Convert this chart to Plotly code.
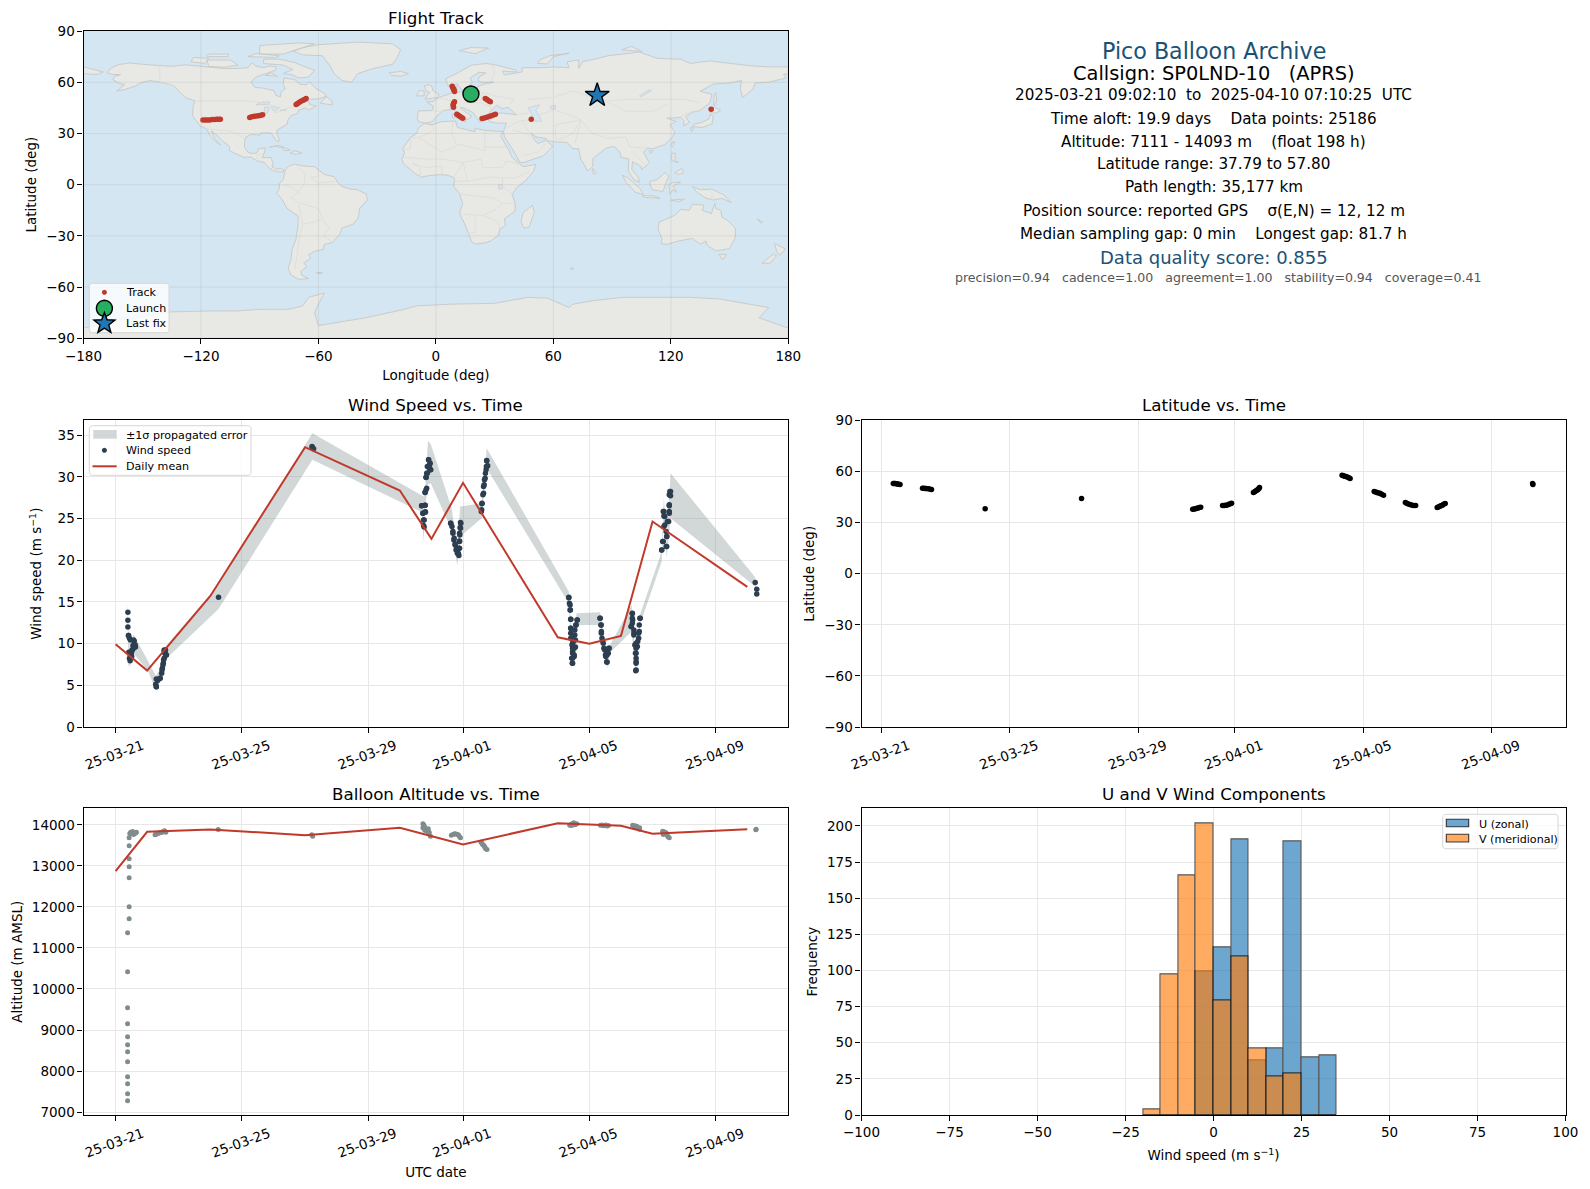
import math
import pandas as pd
import plotly.graph_objects as go

W, H = 1590, 1189
FONT = "DejaVu Sans"

# ---------- header text ----------
summary_lines = [
    "2025-03-21 09:02:10  to  2025-04-10 07:10:25  UTC",
    "Time aloft: 19.9 days    Data points: 25186",
    "Altitude: 7111 - 14093 m    (float 198 h)",
    "Latitude range: 37.79 to 57.80",
    "Path length: 35,177 km",
    "Position source: reported GPS    σ(E,N) = 12, 12 m",
    "Median sampling gap: 0 min    Longest gap: 81.7 h",
]
quality_text = "precision=0.94   cadence=1.00   agreement=1.00   stability=0.94   coverage=0.41"

# ---------- ticks ----------
date_tick_vals = ["2025-03-21", "2025-03-25", "2025-03-29", "2025-04-01", "2025-04-05", "2025-04-09"]
date_tick_text = ["25-03-21", "25-03-25", "25-03-29", "25-04-01", "25-04-05", "25-04-09"]

# ---------- track ----------
track_lon = [-119.0,-117.8,-116.7,-115.5,-114.3,-113.1,-112.0,-111.0,-110.1,
             -95.1,-94.0,-92.8,-91.6,-90.4,-89.4,-88.5,
             -71.4,-70.6,-69.8,-68.9,-67.9,-67.1,-66.3,
             8.3,8.6,9.0,9.3,9.5, 25.2,25.8,26.4,27.1,27.8,
             9.5,9.1,8.8,8.9,9.0, 10.7,11.4,12.1,12.9,13.7,
             23.6,24.8,26.0,27.2,28.3,29.4,30.4, 48.7, 140.6]
track_lat = [37.8,37.8,37.8,37.9,38.1,38.2,38.3,38.3,38.3,
             39.4,39.7,40.0,40.2,40.4,40.7,41.0,
             46.9,47.6,48.3,48.9,49.4,49.9,50.4,
             57.7,56.9,56.0,55.3,54.6, 50.4,50.0,49.6,49.0,48.5,
             48.6,47.8,47.0,46.1,45.3, 41.2,40.6,40.0,39.5,38.9,
             38.7,39.1,39.5,39.9,40.3,40.8,41.2, 38.3, 44.1]
launch_lon, launch_lat = [17.9], [53.1]
last_lon, last_lat = [82.4], [52.3]

# ---------- land outlines (approximate coastlines, lon/lat) ----------
land_shapes = [
    # North America
    [(-168,65.6),(-166,68.3),(-162,70.3),(-156.5,71.3),(-150,70.5),(-141,69.7),(-135,69.3),(-128,70.2),(-124,69.7),(-115,68.5),(-108,68),(-102,68),(-96,68.5),(-94,71.5),(-92,69.5),(-88,68.5),(-85,69.5),(-81.5,69),(-82,67),(-87,65),(-92,63),(-94.5,60),(-92.5,57),(-88,56.5),(-82.5,55),(-82,52.5),(-79.5,51.3),(-79,54.5),(-77,56),(-78,59),(-77.5,62.5),(-72,61.5),(-69.5,58.8),(-66,58.5),(-64.5,60.3),(-61.5,56.5),(-57,53.5),(-56,51.7),(-60,50.2),(-66,50),(-70,47.5),(-65,49),(-64.5,47),(-61,46),(-65,43.7),(-67,45),(-70,43.7),(-70.5,41.7),(-74,40.5),(-75.5,38),(-76,35.5),(-78,34),(-81,32),(-81.3,30),(-80,26.8),(-80.5,25.2),(-81.8,26),(-82.8,28),(-84,30),(-86,30.4),(-89.5,30.2),(-90,29),(-94,29.5),(-97,28),(-97.7,25),(-97.8,22),(-96,19),(-94,18.2),(-91.5,18.6),(-90.5,21),(-87,21.5),(-87.7,18.5),(-88.8,15.9),(-84,15.8),(-83.3,12),(-83.7,10.5),(-81.5,9),(-79.5,9.5),(-77.5,8.7),(-78,7.5),(-80.3,7.5),(-83,8.2),(-85.5,10),(-87.5,13),(-91.5,14),(-94.5,16.2),(-98,16),(-102,18),(-105.5,20),(-105.5,22.5),(-109,25.7),(-112.5,29.5),(-114.7,31.5),(-113,27),(-110,23.2),(-112,24.7),(-115,28),(-117,32.5),(-120.5,34.5),(-122.5,37.5),(-124.3,40.4),(-124,46),(-123,49),(-128,51),(-131,54.5),(-134,58),(-140,59.8),(-146,61),(-151,59.5),(-153,58),(-158,56),(-163,54.8),(-159,58.5),(-162,59.5),(-165,61.5),(-164,63.5),(-161,64.5),(-165,64.5),(-168,65.6)],
    # Arctic Canada
    [(-80,73.5),(-72,71.5),(-68,69.5),(-62,67),(-65,63),(-70,62.5),(-74,64.5),(-78,65),(-73,67.5),(-78,70),(-88,71),(-88,73.5),(-80,73.5)],
    [(-117,73),(-105,73),(-101,70),(-108,68.8),(-116,69.2),(-117,73)],
    [(-90,76.5),(-78,76.5),(-62,82.5),(-70,83),(-90,81.5),(-90,76.5)],
    [(-96,75),(-82,74.5),(-80,75.5),(-92,76.8),(-96,75)],
    [(-125,72),(-118,71),(-116,74),(-124,74.5),(-125,72)],
    [(-117,75),(-106,75),(-106,76.5),(-116,76.5),(-117,75)],
    [(-59,47.7),(-53,46.7),(-53,49),(-56,51.5),(-59,47.7)],
    [(-87,64),(-81,63.5),(-84,65.5),(-87,64)],
    # Greenland, Iceland
    [(-73,78.2),(-67,80.5),(-60,82),(-40,83.5),(-22,82.5),(-18,79),(-20,74),(-22,70.5),(-32,68),(-40,65),(-43,60),(-48,61),(-52,65),(-54,69.5),(-58,75.5),(-68,76),(-73,78.2)],
    [(-24,65.5),(-18,66.3),(-14,65),(-18,63.5),(-22.5,64),(-24,65.5)],
    # Caribbean
    [(-85,22),(-80,23),(-74.3,20.2),(-77.5,19.9),(-78,21.5),(-82,22.5),(-85,22)],
    [(-74.3,18.5),(-72,19.9),(-68.5,18.6),(-71.5,17.8),(-74.3,18.5)],
    # South America
    [(-77,8.5),(-75,11),(-72,12),(-68,11),(-62,10.5),(-60,8.5),(-57,6),(-52,4.7),(-50,1),(-48,-1),(-44,-2.5),(-40,-3),(-35.5,-5.5),(-35,-9),(-39,-14),(-39.5,-19),(-42,-23),(-48,-25.5),(-49,-29),(-53,-34),(-57,-35),(-57.5,-38),(-62,-39),(-65,-41),(-64,-43),(-67.5,-46),(-66,-48),(-69,-51),(-68.5,-53),(-65,-55),(-70,-55.5),(-74,-53),(-75.5,-49),(-74,-44),(-73.5,-38),(-71.5,-32),(-70.5,-25),(-70.3,-18.5),(-76,-14),(-79,-8),(-81.3,-5),(-80,-2.5),(-80,0.5),(-78,3),(-77.5,7),(-77,8.5)],
    [(-61,-51.5),(-58,-51.5),(-59,-52.3),(-61,-51.5)],
    # Africa, Madagascar
    [(-6,35.8),(-2,35),(3,36.9),(10,37.3),(11,33.5),(15,32.4),(20,31),(20,33),(25,31.8),(32,31.2),(34.2,31.2),(33,28.5),(35.5,24),(37.3,20),(39,15.8),(43,11.6),(44.5,10.5),(51,11.9),(50,8),(46,2.5),(41,-2),(39,-6),(40.5,-11),(40.5,-15.5),(35,-20),(35.5,-24),(32.7,-26),(32,-29.5),(28,-33),(25.5,-34),(20,-34.8),(18.3,-33.5),(16.5,-28.5),(14.5,-22.5),(12,-17),(13.7,-11),(12,-5),(9,-1),(9.7,3.5),(8.5,4.5),(5,5.8),(1,5.8),(-4,5.2),(-7.5,4.4),(-11,6.8),(-13.5,9.5),(-16.7,12.5),(-17.3,14.7),(-16,19),(-17,21),(-13,27.7),(-9.8,30),(-9,33),(-6,35.8)],
    [(49.3,-12),(50.3,-16),(47.5,-25),(45,-25.5),(43.5,-22),(44.5,-16.5),(49.3,-12)],
    # Eurasia
    [(-9,37),(-9.5,39),(-9,43.2),(-2,43.4),(-1.2,46),(-4.6,48.4),(-1.5,48.7),(1.5,50.9),(4,52),(8,53.6),(8.5,57),(10.7,57.7),(10.5,54),(14,54),(19,54.4),(21,57),(24,58.8),(29.5,60),(23,60),(21.5,61),(22,63),(25.5,65.5),(22,65.8),(17.5,62.5),(18.5,60),(16,56.5),(13,55.5),(11,59),(6,58),(5,62),(12,66),(18,70),(26,71),(31,70),(41,67),(41,66),(34,66.5),(35,64.3),(40,65),(44,66),(44,68.5),(54,68.5),(60,69),(68,68.5),(67,72),(73,73),(73,68),(75,72),(81,73.5),(88,75.5),(104,77.7),(113,74),(125,73.5),(130,71),(140,72.5),(152,71),(160,69.7),(170,69),(180,69),(180,65),(177.5,64.6),(179,62.5),(170,60),(163,59.5),(162,56),(156.7,51),(155.5,56),(156,61),(150,59.5),(142,59),(135,54.7),(141,53),(140,48),(135,43.5),(130.7,42.3),(127.5,39.8),(129.5,36.5),(126.5,34.4),(126.7,37.5),(125,39.5),(121.5,39),(118,39),(122.5,37),(119.5,35),(122,31),(121,28),(117,23.5),(110.5,21),(108,21.5),(106,19),(109,13),(107,10.5),(105,8.8),(105,10.5),(100.5,13.5),(100,9),(103.5,4),(104,1.4),(101,3),(98.3,8),(98.5,15),(94.5,16),(94,19),(91,22.5),(87,21.3),(80.3,15.5),(80,10.5),(77.5,8),(74,15),(72.8,21),(70,21),(67,24.8),(61.5,25),(57,25.7),(56.3,27),(51,28),(48.7,30.2),(50.2,26.5),(52,24),(56,26),(59.8,22.5),(55,17),(45,13),(43,13),(39,21),(35,28),(34.5,31.2),(36,36),(32,36),(27.5,36.8),(26.3,39.5),(29,41),(33,42),(41,41),(38,44.5),(37,45.3),(33.7,44.5),(31,46.5),(28,43),(26,40.7),(23.7,40),(24,38),(22.5,36.5),(19.5,41),(19,42.2),(14,45),(12.3,45.2),(16,41.8),(18.3,40),(16,38),(12.5,41.5),(8.8,44.3),(3.5,43.3),(0,39.5),(-2,36.8),(-5.5,36),(-9,37)],
    # Chukotka west of the dateline
    [(-180,69),(-175,67.5),(-170,66),(-173,64.5),(-180,65),(-180,69)],
    # British Isles and Mediterranean islands
    [(-5.5,50),(1.3,51.2),(1.5,53),(-1.5,55),(-2,57.5),(-3.5,58.6),(-6,58),(-5,55),(-3,54),(-4.5,52.5),(-5.5,50)],
    [(-10,52),(-6,52),(-6,55),(-8.5,55),(-10,52)],
    [(12.5,38),(15.5,38.2),(15,36.7),(12.5,38)],
    [(8.3,41),(9.7,41),(9.5,39),(8.5,39),(8.3,41)],
    # Arctic Russia
    [(52,71),(57,70.7),(60,75),(68,77),(58,75.5),(53,73),(52,71)],
    [(12,78.5),(20,76.7),(27,80),(18,80.3),(12,78.5)],
    [(95,79),(105,78),(100,81),(95,79)],
    # East Asia
    [(142,46),(143.5,49),(143,54),(142,52),(142,46)],
    [(131,34),(136,33.5),(141,35.5),(141.7,40),(140,41),(139.5,38.5),(136,36.5),(132,35.5),(131,34)],
    [(140,42),(143,42),(145.5,43.5),(142,45.5),(141.3,43.5),(140,42)],
    [(130,33.5),(131.8,33),(130.5,31),(130,33.5)],
    [(80,9.5),(82,7),(80.5,6),(80,9.5)],
    [(121,25),(122,25),(120.8,22),(120,23),(121,25)],
    [(109,20),(111,19.7),(109.5,18.2),(109,20)],
    # Maritime SE Asia
    [(120.5,18.5),(122.3,18.3),(122,14),(124,13),(120.5,14),(120.5,18.5)],
    [(122,7),(125.5,9.5),(126.5,7),(124,6),(122,7)],
    [(95.3,5.6),(98,4),(104,-2),(106,-5.8),(102,-4.5),(97,1.5),(95.3,5.6)],
    [(105.3,-6.5),(111,-6.5),(114.5,-8),(106.5,-7.5),(105.3,-6.5)],
    [(109,1.5),(113,3),(117,7),(119,5),(117.5,1),(116,-4),(110.5,-3),(109,1.5)],
    [(119.5,-5.5),(119,0),(121,1.2),(125,1.5),(121,-1),(123,-4.5),(121,-3),(119.5,-5.5)],
    [(131,-1),(135,-3),(141,-2.6),(147,-6),(150.8,-10.5),(146,-8),(142,-9),(138,-8),(133,-4),(131,-1)],
    [(120,-9),(127,-8.5),(124,-10),(120,-9)],
    # Australia and neighbours
    [(114,-22),(113.5,-26),(115.5,-32),(115,-34.5),(118,-35),(124,-33),(131,-31.5),(135,-34.8),(138,-33),(138.5,-35.5),(143,-38.8),(147,-38),(150,-37.5),(153,-31),(153,-25.5),(149,-21),(146,-19),(145.5,-15),(143,-14),(142.5,-11),(140.7,-17),(136,-15),(137,-12),(131,-11.5),(129.5,-15),(125,-14.5),(122,-18),(117,-20.5),(114,-22)],
    [(144.7,-40.8),(148.3,-40.8),(147,-43.5),(146,-43.5),(144.7,-40.8)],
    [(173,-34.5),(178.5,-37.7),(175.5,-41.5),(174,-39),(173,-34.5)],
    [(172.5,-40.7),(174,-41.7),(170.7,-46),(166.5,-46),(171,-42),(172.5,-40.7)],
    [(164,-20),(167,-22),(166,-22.5),(164,-20)],
    [(68.5,-49),(70.5,-49),(69.5,-49.8),(68.5,-49)],
    # Antarctica
    [(-180,-84),(-180,-90),(180,-90),(180,-84),(165,-78),(170,-72),(160,-70),(145,-67),(130,-66),(110,-66),(95,-66),(80,-68),(70,-70),(68,-72),(57,-66.5),(47,-66),(30,-69.5),(8,-70),(-10,-71),(-16,-73),(-28,-76),(-36,-78),(-60,-82.5),(-62,-75),(-60,-70),(-57,-63.5),(-65,-66),(-68,-71),(-75,-73),(-90,-73),(-102,-74),(-115,-74),(-135,-74.5),(-150,-77),(-160,-79),(-180,-84)],
]
lake_shapes = [
    [(47,45),(53,46.8),(51,43.5),(53,40),(54,37),(50,37.3),(49,41),(47,45)],
    [(-92,46.8),(-85,47),(-85,48.5),(-89,48.3),(-92,46.8)],
    [(-87.8,42),(-86,42),(-85,45.5),(-87.5,45.5),(-87.8,42)],
    [(-84,46),(-80,45),(-82,43),(-83.5,44),(-84,46)],
    [(-79.5,43.5),(-76.5,43.5),(-76.5,44.2),(-79.5,43.5)],
    [(32,0),(34,0),(34,-2.5),(32,-2.5),(32,0)],
    [(104,52),(109,55.5),(110,55),(105,51.5),(104,52)],
    [(58.5,46),(61,46.5),(61,44.5),(58.5,44.5),(58.5,46)],
]
border_lines = [
    [(-123,49),(-95,49),(-89,48),(-84,46.5),(-82.5,42),(-79,43),(-75,45),(-70,46),(-67.5,47)],
    [(-141,69.7),(-141,60),(-134,58)],
    [(-117,32.5),(-106.5,31.7),(-101,29.5),(-97.5,26)],
    [(-92,14.5),(-91,17.5),(-89,18)],
    [(-72,12),(-67,6),(-67,1),(-70,-4),(-74,-7.5),(-70,-11),(-69,-18),(-68,-23),(-70,-33),(-72,-50)],
    [(-60,8.5),(-60,5),(-64,4),(-60,1),(-52,2)],
    [(-78,0),(-75,-1),(-70,-4)],
    [(-69,-11),(-60,-14),(-58,-20),(-54.5,-25.5),(-57.5,-30),(-53,-33.5)],
    [(-68,-23),(-62,-22),(-58,-20)],
    [(-8.5,27.5),(-1,32),(-2,35)],
    [(-17,21),(-13,21),(-13,27.7),(-8.5,27.5),(3,19),(12,23.5),(25,20),(25,31.8)],
    [(9,37),(8,31),(10,24),(12,23.5)],
    [(25,22),(37,22)],
    [(-16,16),(-5,15),(3,15),(14,13),(23,15),(24,10),(34,10),(36,14),(43,12)],
    [(-8,4.5),(-8,10),(-12,12.5),(-5,10),(3,11),(3,6)],
    [(9,4.5),(14,13)],
    [(14,13),(15,7),(16,2),(9.5,2)],
    [(16,2),(28,4.5),(34,4),(41,4),(48,8)],
    [(34,4),(34,-1),(39,-5)],
    [(12,-5.5),(22,-7),(30,-8),(34,-11),(40.5,-11)],
    [(12,-17),(24,-18),(30,-15),(34,-11)],
    [(20,-18),(20,-28),(16.5,-28.5)],
    [(24,-18),(32,-22),(32.7,-26)],
    [(8,54),(14,54),(14,51),(23,50),(24,54)],
    [(1.5,50.9),(8,49),(7,44)],
    [(-1.5,43.3),(3,42.5)],
    [(14,48),(23,48),(28,45.5),(28,43)],
    [(24,54),(30,52),(40,50),(38,47)],
    [(28,60),(30,65),(29,70)],
    [(47,42),(41,41)],
    [(53,41),(60,44),(68,41),(74,38),(61,35),(61,30),(61.5,25)],
    [(47,50),(60,51),(70,55),(80,51),(87,49),(98,50),(107,50),(118,50),(127,50),(135,48)],
    [(87,49),(97,43),(111,43),(118,47)],
    [(74,38),(80,30),(88,27),(97,28),(99,22),(107,21.5)],
    [(74,38),(70,30),(62,26)],
    [(74,37),(71,24)],
    [(44,37),(48,30)],
    [(36,33),(42,37),(48,38),(53,37)],
    [(39,32),(48,29),(56,24),(52,19),(44,17)],
    [(125,40),(131,43)],
    [(141,-2.6),(141,-9)],
    [(100,20),(105,14),(107,11)],
]

# ---------- wind speed ----------
wind_days = [0.39,0.39,0.39,0.41,0.44,0.44,0.46,0.42,0.50,0.53,0.55,0.59,0.63,0.57,0.51,0.47,
             0.41,0.47,0.57,0.62,0.57,0.49,0.47,0.52,
             1.29,1.27,1.29,1.34,1.41,1.46,1.48,1.51,1.54,1.56,1.58,1.61,1.54,
             1.29,1.33,1.41,1.47,1.50,1.52,1.57,1.54,1.60,
             3.26,6.23,6.22,6.27,
             9.69,9.80,9.73,9.81,9.77,9.75,9.80,9.85,9.83,9.91,9.87,9.96,9.98,9.85,9.94,
             9.91,9.94,9.96,9.87,9.83,9.83,9.80,9.69,9.80,9.73,9.81,9.75,9.77,
             10.61,10.65,10.68,10.71,10.75,10.78,10.82,10.87,10.89,10.89,10.90,10.91,10.92,
             10.61,10.68,10.72,10.75,10.80,10.85,10.87,10.89,10.89,10.92,10.93,
             11.58,11.60,11.63,11.65,11.68,11.71,11.74,11.75,11.78,
             11.59,11.60,11.65,11.67,11.70,11.73,11.75,11.77,
             14.35,14.37,14.39,14.41,14.41,14.41,14.45,14.47,14.44,14.46,14.56,14.54,14.57,14.61,14.49,14.52,
             14.35,14.39,14.40,14.41,14.41,14.41,14.45,14.47,14.47,14.47,14.47,14.47,14.56,14.52,14.52,14.54,14.58,14.62,
             15.34,15.37,15.38,15.40,15.44,15.49,15.52,15.56,15.60,15.63,15.55,
             15.34,15.37,15.38,15.42,15.46,15.51,15.55,15.61,15.56,
             16.36,16.37,16.33,16.41,16.44,16.52,16.46,16.48,16.47,16.56,16.58,16.61,
             16.36,16.36,16.36,16.32,16.41,16.41,16.48,16.48,16.48,16.48,16.48,16.48,16.60,16.58,16.56,16.53,
             17.29,17.32,17.43,17.45,17.36,17.34,17.39,17.51,17.53,17.53,17.53,17.57,
             17.55,17.57,17.53,17.53,17.36,17.36,17.47,17.39,17.43,17.45,17.34,17.29,17.45,
             20.25,20.30,20.30]
wind_speed = [13.76,12.8,12.0,10.96,10.64,8.24,7.96,8.96,8.84,9.24,9.76,10.32,9.6,9.44,8.44,8.56,
              10.96,10.44,10.44,9.84,9.6,8.84,8.24,9.2,
              4.84,5.12,5.76,5.6,5.84,6.44,7.04,7.64,8.24,8.84,9.24,8.64,9.12,
              4.84,5.64,5.84,6.84,7.44,8.04,8.84,9.24,8.64,
              15.56,33.52,33.64,33.36,
              26.52,26.6,25.64,25.76,24.84,24.16,28.16,28.64,29.92,32.04,31.24,31.64,30.84,30.44,31.04,
              32.04,31.44,30.84,30.44,29.96,28.44,28.12,26.52,26.6,25.64,25.8,24.84,24.0,
              24.44,24.04,23.24,22.44,21.84,21.24,20.84,20.56,21.44,22.32,23.04,23.92,24.52,
              24.44,23.44,22.64,21.96,21.44,20.84,21.44,22.24,23.24,23.84,24.44,
              25.84,26.76,27.84,28.84,29.64,30.44,31.24,31.92,31.32,
              26.04,26.84,28.04,29.04,29.84,30.84,31.96,31.3,
              15.5,14.84,14.04,12.92,11.84,10.64,9.84,9.04,8.24,7.64,9.6,11.04,12.24,12.84,10.24,8.64,
              15.56,14.64,14.04,12.92,11.84,11.24,10.64,10.04,9.44,8.84,8.24,7.64,10.44,9.44,8.44,11.64,12.24,12.84,
              13.04,12.24,11.44,10.64,10.04,9.24,8.44,7.76,8.84,9.44,9.04,
              13.04,12.24,11.24,10.32,9.44,8.64,7.84,9.44,8.64,
              13.6,12.84,12.04,11.24,9.84,9.64,8.84,7.84,6.76,10.64,11.44,13.04,
              13.64,13.04,12.44,12.04,11.64,11.04,10.04,9.44,8.84,8.24,7.64,6.84,13.04,12.24,11.24,10.24,
              21.24,22.24,21.64,22.84,24.04,25.84,25.24,24.64,25.84,26.52,27.84,28.24,
              28.24,27.74,26.64,25.64,25.84,25.3,24.64,24.24,23.44,22.84,22.24,21.24,21.64,
              17.32,16.52,15.96]
band_days = [0.38,0.41,0.46,0.57,1.04,1.27,1.43,1.56,3.26,6.23,9.70,9.75,9.81,9.89,9.98,10.64,10.82,10.91,
             11.59,11.75,14.35,14.45,14.60,15.34,15.57,15.63,16.34,16.47,16.60,17.29,17.36,17.45,17.57,20.25,20.30]
band_upper = [14.96,11.44,9.24,11.12,7.84,6.16,7.04,9.52,17.04,35.24,27.76,27.6,29.04,34.32,33.92,26.24,21.44,26.44,
              26.84,33.44,16.24,10.64,13.64,13.76,8.24,9.64,14.64,7.44,13.44,21.04,27.64,21.84,30.44,17.96,16.24]
band_lower = [13.04,7.36,7.36,8.84,6.64,4.44,5.64,8.04,14.16,32.04,25.76,22.16,26.64,29.04,29.24,23.64,19.36,22.84,
              25.04,31.04,14.84,6.84,12.24,12.24,7.04,8.84,11.44,6.32,12.24,19.84,25.04,20.24,25.04,16.84,15.44]
mean_days = [0, 1, 3, 6, 9, 10, 11, 14, 15, 16, 17, 20]
wind_mean = [9.92, 6.76, 15.72, 33.56, 28.36, 22.56, 29.28, 10.76, 10.0, 10.92, 24.64, 16.8]

# ---------- latitude ----------
lat_days = [0.37,0.40,0.43,0.47,0.50,0.54,0.58,1.28,1.32,1.36,1.40,1.45,1.50,1.56,3.23,6.23,
            9.69,9.74,9.78,9.82,9.86,9.90,9.94,10.62,10.67,10.72,10.77,10.82,10.86,10.90,11.58,11.62,11.65,11.69,11.72,11.75,11.77,
            14.34,14.38,14.42,14.46,14.50,14.55,14.59,15.34,15.38,15.43,15.47,15.52,15.57,15.63,16.31,16.35,16.40,16.45,16.50,16.56,16.63,
            17.30,17.34,17.38,17.42,17.46,17.50,17.55,20.27,20.28]
lat_vals = [52.9,52.9,52.9,52.8,52.7,52.5,52.3,50.2,50.1,50.0,50.0,49.9,49.7,49.4,38.2,44.1,
            37.8,38.0,38.2,38.4,38.6,38.8,39.0,40.0,40.1,40.2,40.4,40.7,41.0,41.4,47.6,48.1,48.5,49.0,49.5,50.0,50.6,
            57.8,57.5,57.2,57.0,56.7,56.3,55.9,48.2,47.9,47.6,47.4,47.2,46.7,46.1,41.8,41.3,40.9,40.6,40.3,40.1,40.0,
            38.8,39.2,39.6,39.9,40.2,40.7,41.2,53.0,52.4]

# ---------- altitude ----------
alt_days = [0.38,0.38,0.38,0.38,0.38,0.38,0.38,0.38,0.38,0.38,0.38,0.38,0.43,0.43,0.43,0.43,0.43,0.43,0.43,
            0.48,0.53,0.60,0.66,0.54,0.45,0.57,0.50,0.63,
            1.25,1.33,1.40,1.47,1.55,1.59,1.29,1.37,1.43,1.51,3.25,6.24,6.21,
            9.73,9.76,9.73,9.79,9.90,9.93,9.97,9.85,9.75,9.78,9.88,9.92,
            10.63,10.75,10.85,10.92,10.68,10.72,10.80,10.88,
            11.57,11.62,11.68,11.72,11.76,11.60,11.65,11.70,
            14.41,14.51,14.60,14.44,14.47,14.55,14.38,
            15.35,15.47,15.60,15.40,15.44,15.52,15.56,
            16.37,16.47,16.59,16.42,16.59,16.51,16.55,16.45,
            17.32,17.43,17.49,17.53,17.34,17.38,17.46,17.40,17.36,20.27,20.28]
alt_vals = [7279,7450,7693,7864,8229,8472,8643,8838,9154,9544,10420,11370,11711,12003,12710,12977,13172,13489,13683,
            13821,13789,13805,13821,13838,13789,13765,13810,13795,
            13756,13789,13805,13821,13854,13821,13770,13800,13815,13835,13886,13724,13756,
            14024,13984,13927,13870,13903,13821,13724,13846,14000,13950,13880,13780,
            13748,13781,13756,13683,13765,13775,13770,13720,
            13578,13521,13480,13416,13399,13550,13500,13440,
            14008,14049,14024,13984,14030,14000,13990,
            13992,13984,13984,13995,13975,13998,13970,
            13992,13951,13927,13943,13895,13960,13915,13975,
            13846,13805,13708,13683,13765,13820,13750,13790,13830,13878,13895]
alt_mean = [12872, 13830, 13886, 13748, 13927, 13730, 13521, 14040, 14000, 13976, 13781, 13894]

# ---------- histogram ----------
bin_centers = [-17.5, -12.5, -7.5, -2.5, 2.5, 7.5, 12.5, 17.5, 22.5, 27.5, 32.5]
u_counts = [0, 0, 0, 99, 116, 191, 38, 46, 189, 40, 41]
v_counts = [4, 97, 166, 202, 79, 110, 46, 27, 29, 0, 0]

# ---------- colours ----------
RED, SLATE, NAVY = "#c0392b", "#7f8c8d", "#2c3e50"
GREEN, BLUE, ORANGE = "#27ae60", "#1f77b4", "#ff7f0e"
TITLE_BLUE = "#1a5276"
GRID = "#e7e7e7"
OCEAN, LAND = "#d4e6f1", "#e8e8e4"
BAND = "rgba(127,140,141,0.35)"


def to_dates(days):
    return pd.Timestamp("2025-03-21") + pd.to_timedelta(days, unit="D")


def flatten(shapes):
    xs, ys = [], []
    for poly in shapes:
        xs += [p[0] for p in poly] + [None]
        ys += [p[1] for p in poly] + [None]
    return xs, ys


def xdom(a, b):
    return [a / W, b / W]


def ydom(top, bottom):
    return [1 - bottom / H, 1 - top / H]


fig = go.Figure()

# map
land_x, land_y = flatten(land_shapes)
lake_x, lake_y = flatten(lake_shapes)
bord_x, bord_y = flatten(border_lines)
fig.add_trace(go.Scatter(x=land_x, y=land_y, mode="lines", fill="toself", fillcolor=LAND,
                         line=dict(color="#c6c8c8", width=0.9), showlegend=False, hoverinfo="skip", xaxis="x", yaxis="y"))
fig.add_trace(go.Scatter(x=lake_x, y=lake_y, mode="lines", fill="toself", fillcolor=OCEAN,
                         line=dict(color="#c6c8c8", width=0.6), showlegend=False, hoverinfo="skip", xaxis="x", yaxis="y"))
fig.add_trace(go.Scatter(x=bord_x, y=bord_y, mode="lines", line=dict(color="#dcdcd9", width=0.8),
                         showlegend=False, hoverinfo="skip", xaxis="x", yaxis="y"))
fig.add_trace(go.Scatter(x=track_lon, y=track_lat, mode="markers", name="Track", showlegend=False,
                         marker=dict(color=RED, size=5.5), xaxis="x", yaxis="y"))
fig.add_trace(go.Scatter(x=launch_lon, y=launch_lat, mode="markers", name="Launch", showlegend=False,
                         marker=dict(color=GREEN, size=16, line=dict(color="black", width=1.4)), xaxis="x", yaxis="y"))
fig.add_trace(go.Scatter(x=last_lon, y=last_lat, mode="markers", name="Last fix", showlegend=False,
                         marker=dict(color=BLUE, size=18, symbol="star", line=dict(color="black", width=1.4)),
                         xaxis="x", yaxis="y"))

# wind
wind_x = to_dates(wind_days)
band_x = to_dates(band_days)
fig.add_trace(go.Scatter(x=list(band_x) + list(band_x[::-1]), y=band_upper + band_lower[::-1], mode="lines", fill="toself",
                         fillcolor=BAND, line=dict(width=0), name="±1σ propagated error",
                         showlegend=False, xaxis="x2", yaxis="y2", hoverinfo="skip"))
fig.add_trace(go.Scatter(x=wind_x, y=wind_speed, mode="markers", name="Wind speed", showlegend=False,
                         marker=dict(color=NAVY, size=5.5), xaxis="x2", yaxis="y2"))
fig.add_trace(go.Scatter(x=to_dates(mean_days), y=wind_mean, mode="lines", name="Daily mean", showlegend=False,
                         line=dict(color=RED, width=2), xaxis="x2", yaxis="y2"))

# latitude
fig.add_trace(go.Scatter(x=to_dates(lat_days), y=lat_vals, mode="markers", marker=dict(color="black", size=5.5),
                         showlegend=False, xaxis="x3", yaxis="y3"))

# altitude
fig.add_trace(go.Scatter(x=to_dates(alt_days), y=alt_vals, mode="markers", marker=dict(color=SLATE, size=5),
                         showlegend=False, xaxis="x4", yaxis="y4"))
fig.add_trace(go.Scatter(x=to_dates(mean_days), y=alt_mean, mode="lines", line=dict(color=RED, width=2),
                         showlegend=False, xaxis="x4", yaxis="y4"))

# histogram
fig.add_trace(go.Bar(x=bin_centers, y=u_counts, width=5, name="U (zonal)", showlegend=False,
                     marker=dict(color=BLUE, line=dict(color="black", width=1.1)), opacity=0.65,
                     xaxis="x5", yaxis="y5"))
fig.add_trace(go.Bar(x=bin_centers, y=v_counts, width=5, name="V (meridional)", showlegend=False,
                     marker=dict(color=ORANGE, line=dict(color="black", width=1.1)), opacity=0.65,
                     xaxis="x5", yaxis="y5"))


def axis(**kw):
    base = dict(showline=True, linecolor="black", linewidth=1.1, mirror=True, ticks="outside", ticklen=5, tickwidth=1.1,
                tickcolor="black", showgrid=True, gridcolor=GRID, gridwidth=1.1, zeroline=False, automargin=False,
                tickfont=dict(family=FONT, size=13.5, color="black"))
    base.update(kw)
    return base


def title(text, standoff):
    return dict(text=text, font=dict(family=FONT, size=13.5, color="black"), standoff=standoff)


def date_axis(rng, dom, anchor, **kw):
    return axis(type="date", range=rng, domain=dom, anchor=anchor, tickmode="array", tickvals=date_tick_vals,
                ticktext=date_tick_text, tickangle=-20, ticklabelshift=27, **kw)


LEFT = xdom(83.5, 788.3)
RIGHT = xdom(861.5, 1565.5)
ROW1 = ydom(31, 338.3)
ROW2 = ydom(420.4, 727)
ROW3 = ydom(808.4, 1115)
LEFT_RANGE = ["2025-03-19 23:38", "2025-04-11 07:10"]
LAT_RANGE = ["2025-03-20 09:08", "2025-04-11 07:04"]
lon_ticks = [-180, -120, -60, 0, 60, 120, 180]
lat_ticks = [-90, -60, -30, 0, 30, 60, 90]

fig.update_layout(
    width=W, height=H, autosize=False, margin=dict(l=0, r=0, t=0, b=0), showlegend=False,
    paper_bgcolor="white", plot_bgcolor="white", barmode="overlay", bargap=0,
    font=dict(family=FONT, size=13.5, color="black"), hovermode=False,
    xaxis=axis(range=[-180, 180], domain=LEFT, anchor="y", tickvals=lon_ticks, title=title("Longitude (deg)", 8), showgrid=False),
    yaxis=axis(range=[-90, 90], domain=ROW1, anchor="x", tickvals=lat_ticks, title=title("Latitude (deg)", 6), showgrid=False),
    xaxis2=date_axis(LEFT_RANGE, LEFT, "y2"),
    yaxis2=axis(range=[0, 36.77], domain=ROW2, anchor="x2", tickvals=list(range(0, 36, 5)),
                title=title("Wind speed (m s<sup>−1</sup>)", 12)),
    xaxis3=date_axis(LAT_RANGE, RIGHT, "y3"),
    yaxis3=axis(range=[-90, 90], domain=ROW2, anchor="x3", tickvals=lat_ticks, title=title("Latitude (deg)", 6)),
    xaxis4=date_axis(LEFT_RANGE, LEFT, "y4", title=title("UTC date", 7)),
    yaxis4=axis(range=[6930, 14400], domain=ROW3, anchor="x4", tickvals=list(range(7000, 14001, 1000)), tickformat="d",
                title=title("Altitude (m AMSL)", 6)),
    xaxis5=axis(range=[-100, 100], domain=RIGHT, anchor="y5", tickvals=list(range(-100, 101, 25)),
                title=title("Wind speed (m s<sup>−1</sup>)", 11)),
    yaxis5=axis(range=[0, 212.1], domain=ROW3, anchor="x5", tickvals=list(range(0, 201, 25)), title=title("Frequency", 6)),
)

# map graticule on top of the land
for v in lon_ticks[1:-1]:
    fig.add_shape(type="line", xref="x", yref="y", x0=v, x1=v, y0=-90, y1=90, line=dict(color="rgba(150,150,150,0.18)", width=1), layer="above")
for v in lat_ticks[1:-1]:
    fig.add_shape(type="line", xref="x", yref="y", x0=-180, x1=180, y0=v, y1=v, line=dict(color="rgba(150,150,150,0.18)", width=1), layer="above")
# ocean background for the map panel
fig.add_shape(type="rect", xref="x", yref="y", x0=-180, x1=180, y0=-90, y1=90, fillcolor=OCEAN, line=dict(width=0), layer="below")


def note(text, xpx, ypx, size, color="black", anchor="center"):
    fig.add_annotation(text=text, xref="paper", yref="paper", x=xpx / W, y=1 - ypx / H, showarrow=False,
                       xanchor=anchor, yanchor="middle", font=dict(family=FONT, size=size, color=color))


def px_path(points, fill="rgba(0,0,0,0)", line_color="rgba(0,0,0,0)", line_width=0, close=True):
    path = "M " + " L ".join(f"{x:.2f},{-y:.2f}" for x, y in points) + (" Z" if close else "")
    fig.add_shape(type="path", path=path, xref="paper", yref="paper", xsizemode="pixel", ysizemode="pixel",
                  xanchor=0, yanchor=1, fillcolor=fill, line=dict(color=line_color, width=line_width), layer="above")


def rect_pts(x0, y0, x1, y1):
    return [(x0, y0), (x1, y0), (x1, y1), (x0, y1)]


def round_rect_pts(x0, y0, x1, y1, r=3):
    pts = []
    corners = [(x1 - r, y0 + r, -90), (x1 - r, y1 - r, 0), (x0 + r, y1 - r, 90), (x0 + r, y0 + r, 180)]
    for cx, cy, start in corners:
        for k in range(5):
            a = math.radians(start + k * 22.5)
            pts.append((cx + r * math.cos(a), cy + r * math.sin(a)))
    return pts


def circle_pts(cx, cy, r):
    return [(cx + r * math.cos(math.radians(a)), cy + r * math.sin(math.radians(a))) for a in range(0, 360, 15)]


def star_pts(cx, cy, r):
    pts = []
    for k in range(10):
        rad = r if k % 2 == 0 else r * 0.42
        a = math.radians(-90 + k * 36)
        pts.append((cx + rad * math.cos(a), cy + rad * math.sin(a)))
    return pts


def legend_box(x0, y0, x1, y1):
    px_path(round_rect_pts(x0, y0, x1, y1), fill="rgba(255,255,255,0.8)", line_color="#d6d6d6", line_width=1)


LEG = 11.1
# Flight track legend
legend_box(89.3, 283.3, 169, 332.7)
px_path(circle_pts(104.4, 292.3, 2.5), fill=RED)
px_path(circle_pts(104.4, 308.3, 8), fill=GREEN, line_color="black", line_width=1.4)
px_path(star_pts(104.4, 323.5, 11), fill=BLUE, line_color="black", line_width=1.4)
for text, y in [("Track", 292.3), ("Launch", 308.3), ("Last fix", 323.3)]:
    note(text, 124.2, y, LEG, anchor="left")

# Wind legend
legend_box(89.3, 425.7, 251, 475.3)
px_path(rect_pts(93.3, 430, 116.7, 438.7), fill=BAND)
px_path(circle_pts(104.4, 450.3, 2.5), fill=NAVY)
px_path([(92.5, 466.3), (116.7, 466.3)], line_color=RED, line_width=2, close=False)
for text, y in [("±1σ propagated error", 435), ("Wind speed", 450.3), ("Daily mean", 466.3)]:
    note(text, 124.3, y, LEG, anchor="left")

# Histogram legend
legend_box(1442.7, 814.3, 1558, 848.7)
px_path(rect_pts(1446.3, 819.3, 1468.7, 826.7), fill="rgba(31,119,180,0.65)", line_color="rgba(0,0,0,0.75)", line_width=1.1)
px_path(rect_pts(1446.3, 834.3, 1468.7, 842), fill="rgba(255,127,14,0.65)", line_color="rgba(0,0,0,0.75)", line_width=1.1)
for text, y in [("U (zonal)", 824), ("V (meridional)", 839)]:
    note(text, 1477.3, y, LEG, anchor="left")

for text, xpx, ypx in [("Flight Track", 435.9, 17.6), ("Wind Speed vs. Time", 435.9, 405),
                       ("Latitude vs. Time", 1213.5, 405), ("Balloon Altitude vs. Time", 435.9, 794),
                       ("U and V Wind Components", 1213.5, 794)]:
    note(text, xpx, ypx, 16.7)

TX = 1213.5
note("Pico Balloon Archive", TX, 50.6, 22.2, TITLE_BLUE)
note("Callsign: SP0LND-10   (APRS)", TX, 73, 19.4)
for line, ypx in zip(summary_lines, [95.3, 118.5, 141.8, 164.3, 187.4, 210.6, 234]):
    note(line, TX, ypx, 15.2)
note("Data quality score: 0.855", TX, 257, 18, TITLE_BLUE)
note(quality_text, TX + 5, 277.5, 12.55, "#555555")

fig.write_html("out.html", config=dict(displayModeBar=False),
               post_script="document.body.style.margin='0';document.body.style.overflow='hidden';")
